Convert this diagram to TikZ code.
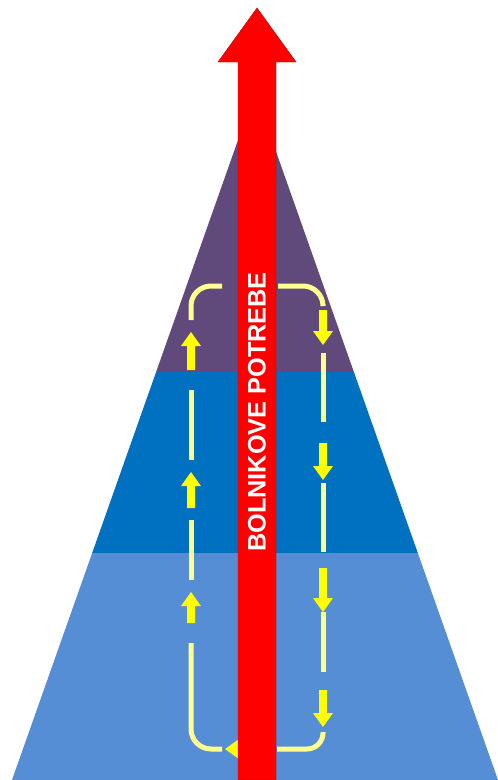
\documentclass[tikz,border=0pt]{standalone}
\usepackage{fontspec}
\setmainfont{Liberation Sans}
\usetikzlibrary{positioning}
\definecolor{TopBand}{HTML}{604A7B}
\definecolor{MidBand}{HTML}{0070C0}
\definecolor{LowBand}{HTML}{558ED5}
\definecolor{Need}{HTML}{FF0000}
\definecolor{NeedEdge}{HTML}{C00000}
\definecolor{Loop}{HTML}{FFFF8F}
\definecolor{LoopTip}{HTML}{FFFF00}
\tikzset{
  loopline/.style={Loop,line width=0.25cm},
  looptip/.style={fill=LoopTip}
}
\begin{document}
\begin{tikzpicture}[x=0.05cm,y=-0.05cm]
  \useasboundingbox (0,0) rectangle (498,780);
  \begin{scope}
    \clip (12,780) -- (255,92) -- (498,780) -- cycle;
    \fill[LowBand] (0,553) rectangle (498,780);
    \fill[MidBand] (0,372) rectangle (498,553);
    \fill[TopBand] (0,0) rectangle (498,372);
  \end{scope}
  \coordinate (lx) at (191,0);
  \coordinate (rx) at (323,0);
  \draw[loopline,rounded corners=1cm] (222,286) -- (191,286) -- (191,320);
  \draw[loopline,rounded corners=1cm] (191,643) -- (191,749) -- (222,749);
  \draw[loopline,rounded corners=1cm] (278,286) -- (323,286) -- (323,304);
  \draw[loopline,rounded corners=0.8cm] (323,732) -- (323,749) -- (277,749);
  \foreach \a/\b in {390/460,520/580} \draw[loopline] (191,\a) -- (191,\b);
  \foreach \a/\b in {353/422,483/552,612/672} \draw[loopline] (323,\a) -- (323,\b);
  \foreach \t/\e in {332/370,472/508,592/623}
    \fill[looptip] (191,\t) -- (201,\t+14) -- (195,\t+14) -- (195,\e) -- (187,\e) -- (187,\t+14) -- (181,\t+14) -- cycle;
  \foreach \t/\e in {310/345,443/480,568/612,690/727}
    \fill[looptip] (323,\e) -- (333,\e-14) -- (327,\e-14) -- (327,\t) -- (319,\t) -- (319,\e-14) -- (313,\e-14) -- cycle;
  \fill[looptip] (225,749) -- (239,739) -- (239,745) -- (250,745) -- (250,753) -- (239,753) -- (239,759) -- cycle;
  \filldraw[fill=Need,draw=NeedEdge,line width=0.6pt] (238,780) -- (238,62) -- (218,62) -- (257,8) -- (296,62) -- (276,62) -- (276,780) -- cycle;
  \node[rotate=90,text=white,font=\bfseries\fontsize{36}{36}\selectfont] (need) at (257,412) {BOLNIKOVE POTREBE};
\end{tikzpicture}
\end{document}
